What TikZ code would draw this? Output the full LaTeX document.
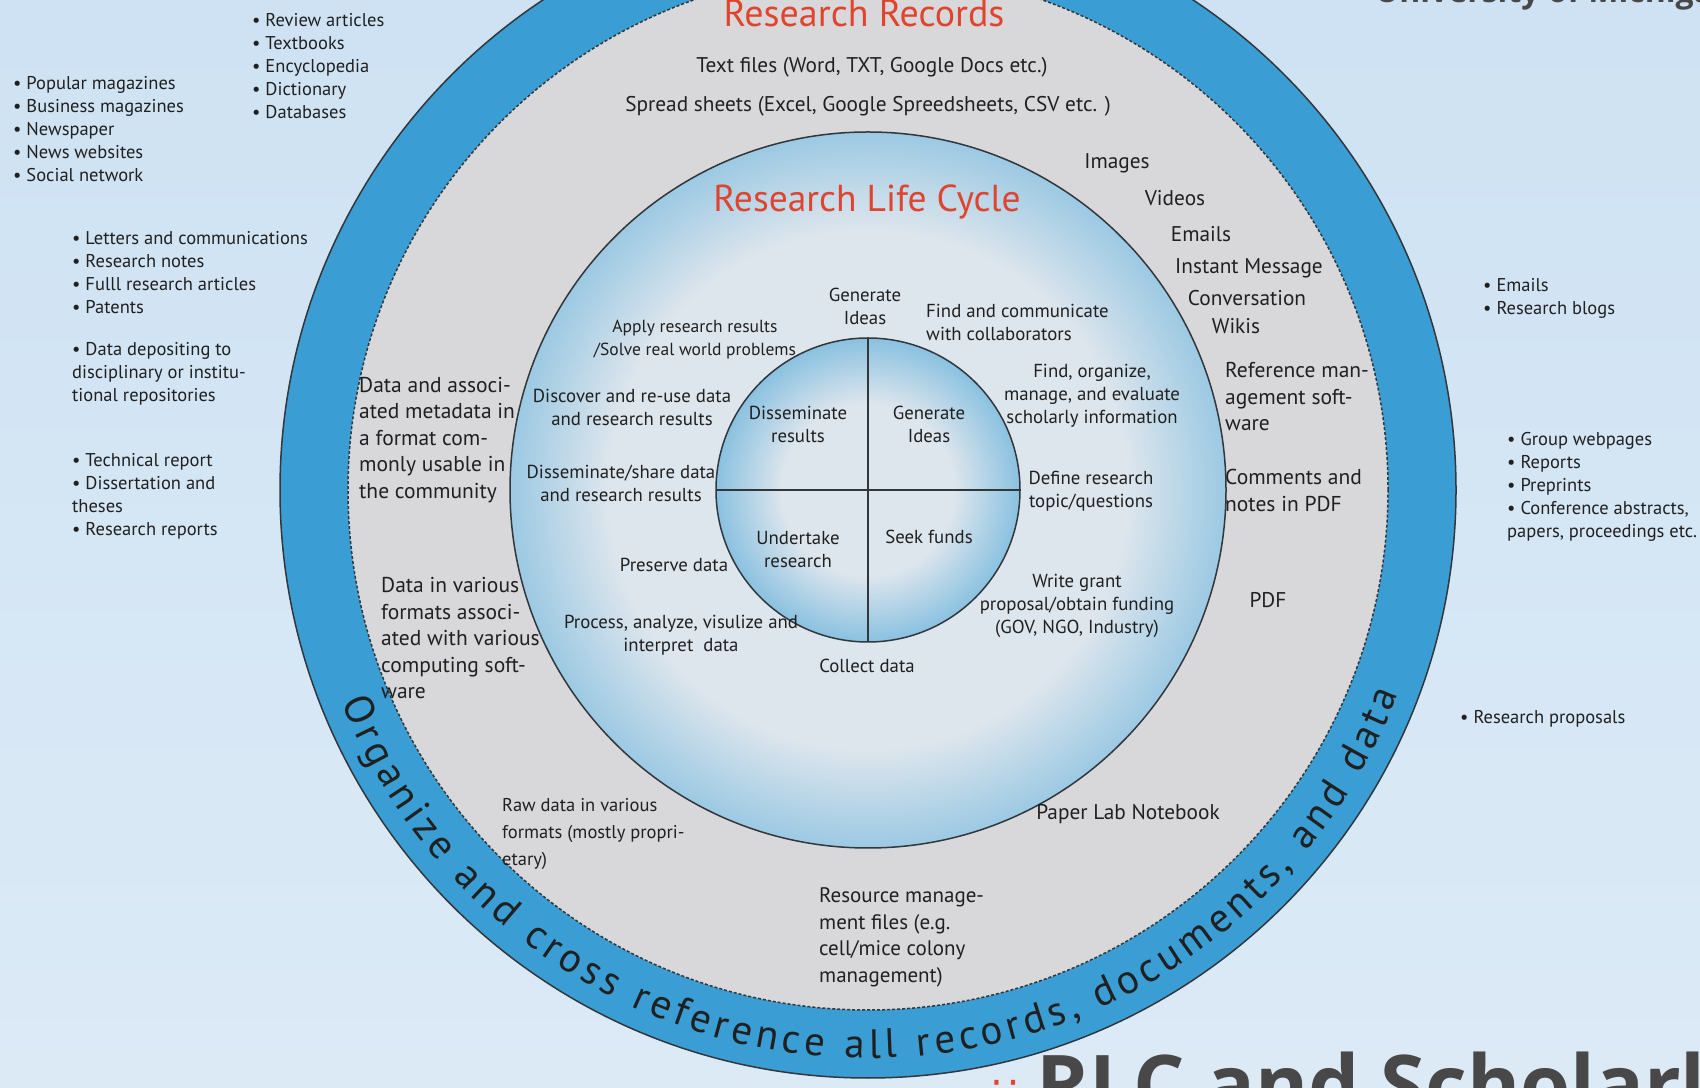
\documentclass[tikz,border=0pt]{standalone}
\usepackage{fontspec}
\setmainfont{PT Sans}
\newfontfamily\slidefont{Open Sans}
\newfontfamily\symfont{DejaVu Sans}
\usetikzlibrary{decorations.text}
\definecolor{ringblue}{RGB}{58,158,212}
\definecolor{ringgray}{RGB}{216,216,218}
\definecolor{lcpale}{RGB}{222,230,237}
\definecolor{recred}{RGB}{225,68,46}
\definecolor{inktext}{RGB}{32,32,32}
\definecolor{rimgray}{RGB}{50,55,60}
\definecolor{bgtop}{RGB}{206,226,243}
\definecolor{bgmid}{RGB}{234,242,249}
\definecolor{bglow}{RGB}{220,234,246}
\definecolor{slidegray}{RGB}{72,72,72}
\pgfdeclareradialshading{cycleshade}{\pgfpoint{0bp}{0bp}}{color(0bp)=(lcpale); color(18bp)=(lcpale); color(35.4bp)=(ringblue); color(50bp)=(ringblue)}
\pgfdeclareradialshading{coreshade}{\pgfpoint{0bp}{0bp}}{color(0bp)=(lcpale); color(14bp)=(lcpale); color(35.4bp)=(ringblue); color(50bp)=(ringblue)}
\tikzstyle{rimline}=[draw=rimgray, line width=1.5pt]
\tikzstyle{sidelist}=[font=\fontsize{18.5}{23}\selectfont, align=left, anchor=west, inner sep=0pt, text=inktext]
\tikzstyle{recordtext}=[font=\fontsize{21.3}{27}\selectfont, align=center, inner sep=0pt, text=inktext]
\tikzstyle{recordblock}=[font=\fontsize{21.5}{26.5}\selectfont, align=left, anchor=west, inner sep=0pt, text=inktext]
\tikzstyle{smallblock}=[font=\fontsize{18.5}{27}\selectfont, align=left, anchor=west, inner sep=0pt, text=inktext]
\tikzstyle{cycletext}=[font=\fontsize{18.8}{23}\selectfont, align=center, inner sep=0pt, text=inktext]
\tikzstyle{ringtitle}=[font=\fontsize{38}{42}\selectfont, text=recred, inner sep=0pt]

\begin{document}
\begin{tikzpicture}[x=1pt, y=1pt]

   \useasboundingbox (0,0) rectangle (1700,1087);
   \clip (0,0) rectangle (1700,1087);
   \shade[top color=bgtop, middle color=bgmid, bottom color=bglow] (0,0) rectangle (1700,1087);

   % the rings
   \coordinate (hub) at (868,597);
   \draw[rimline, fill=ringblue] (hub) circle (588pt);
   \draw[rimline, densely dashed, fill=ringgray] (hub) circle (520pt);
   \shade[shading=cycleshade] (hub) circle (358pt);
   \draw[rimline] (hub) circle (358pt);
   \shade[shading=coreshade] (hub) circle (152pt);
   \draw[rimline] (hub) circle (152pt);
   \draw[rimline] ([yshift=152pt]hub) -- ([yshift=-152pt]hub);
   \draw[rimline] ([xshift=-152pt]hub) -- ([xshift=152pt]hub);

   % text round the blue ring
   \coordinate (ringstart) at ([shift={(202:568pt)}]hub);
   \path[decorate, decoration={text along path, text align={fit to path},
      text={|\fontsize{41}{41}\selectfont\color{inktext}|Organize and cross reference all records, documents, and data}}]
      (ringstart) arc[start angle=202, end angle=339, radius=568pt];

   % lists outside the rings
   \foreach \pos/ \name / \label in {{(252,1021)/revlist/{• Review articles\\• Textbooks\\• Encyclopedia\\• Dictionary\\• Databases}},
      {(13,958)/maglist/{• Popular magazines\\• Business magazines\\• Newspaper\\• News websites\\• Social network}},
      {(72,814)/letterlist/{• Letters and communications\\• Research notes\\• Fulll research articles\\• Patents}},
      {(72,713.5)/depositlist/{• Data depositing to\\disciplinary or institu-\\tional repositories}},
      {(72,590.5)/reportlist/{• Technical report\\• Dissertation and\\theses\\• Research reports}},
      {(1483,789)/bloglist/{• Emails\\• Research blogs}},
      {(1507,600)/weblist/{• Group webpages\\• Reports\\• Preprints\\• Conference abstracts,\\papers, proceedings etc.}},
      {(1460,368)/proposallist/{• Research proposals}}}
      \node[sidelist] (\name) at \pos {\label};

   % research records
   \node[ringtitle] (records) at (864,1074) {Research Records};
   \foreach \pos/ \name / \label in {{(872,1020)/textfiles/{Text files (Word, TXT, Google Docs etc.)}},
      {(868,981)/sheets/{Spread sheets (Excel, Google Spreedsheets, CSV etc. )}},
      {(1117,924)/images/Images}, {(1175,889)/videos/Videos}, {(1201,853)/emails/Emails},
      {(1249,819)/instant/{Instant Message}}, {(1247,789)/conversation/Conversation},
      {(1236,761)/wikis/Wikis}, {(1268,487)/pdf/PDF}, {(1128,273)/notebook/{Paper Lab Notebook}}}
      \node[recordtext] (\name) at \pos {\label};
   \foreach \pos/ \name / \label in {{(1225,690)/refsoft/{Reference man-\\agement soft-\\ware}},
      {(1225,596.5)/pdfnotes/{Comments and\\notes in PDF}},
      {(381,448.5)/formats/{Data in various\\formats associ-\\ated with various\\computing soft-\\ware}},
      {(359,647)/metadata/{Data and associ-\\ated metadata in\\a format com-\\monly usable in\\the community}}}
      \node[recordblock] (\name) at \pos {\label};
   \node[smallblock, font=\fontsize{21}{26.5}\selectfont] (resource) at (819,149.5) {Resource manage-\\ment files (e.g.\\cell/mice colony\\management)};
   \node[smallblock] (rawdata) at (502,253.5) {Raw data in various\\formats (mostly propri-\\etary)};

   % research life cycle
   \node[ringtitle, font=\fontsize{37.5}{42}\selectfont] (lifecycle) at (867,885) {Research Life Cycle};
   \foreach \pos/ \name / \label in {{(865,781)/ideas/{Generate\\Ideas}},
      {(1092,691)/findorg/{Find, organize,\\manage, and evaluate\\scholarly information}},
      {(632,679.5)/discover/{Discover and re-use data\\and research results}},
      {(621,603.5)/share/{Disseminate/share data\\and research results}},
      {(1091,595.5)/define/{Define research\\topic/questions}},
      {(674,522)/preserve/{Preserve data}},
      {(1077,481.5)/grant/{Write grant\\proposal/obtain funding\\(GOV, NGO, Industry)}},
      {(681,452)/process/{Process, analyze, visulize and\\interpret\ \ data}},
      {(867,421)/collect/{Collect data}},
      {(798,663)/dissem/{Disseminate\\results}}, {(929,663)/generate/{Generate\\Ideas}},
      {(798,537)/undertake/{Undertake\\research}}, {(929,550)/seekfunds/{Seek funds}}}
      \node[cycletext] (\name) at \pos {\label};
   \node[cycletext, font=\fontsize{17.5}{23}\selectfont] (apply) at (695,747.5) {Apply research results\\/Solve real world problems};
   \node[cycletext, align=left, anchor=west] (collab) at (926,764.5) {Find and communicate\\with collaborators};

   % slide titles cut by the frame
   \node[anchor=base west, inner sep=0pt, text=slidegray, font=\slidefont\bfseries\fontsize{32}{34}\selectfont] (univ) at (1375,1084) {University of Michigan};
   \node[anchor=base west, inner sep=0pt, text=recred, font=\symfont\fontsize{40}{40}\selectfont] (mark) at (992,-17) {∷};
   \node[anchor=base west, inner sep=0pt, text=slidegray, font=\slidefont\bfseries\fontsize{81}{81}\selectfont] (rlc) at (1036,-26) {RLC and Scholarly};

\end{tikzpicture}
\end{document}
